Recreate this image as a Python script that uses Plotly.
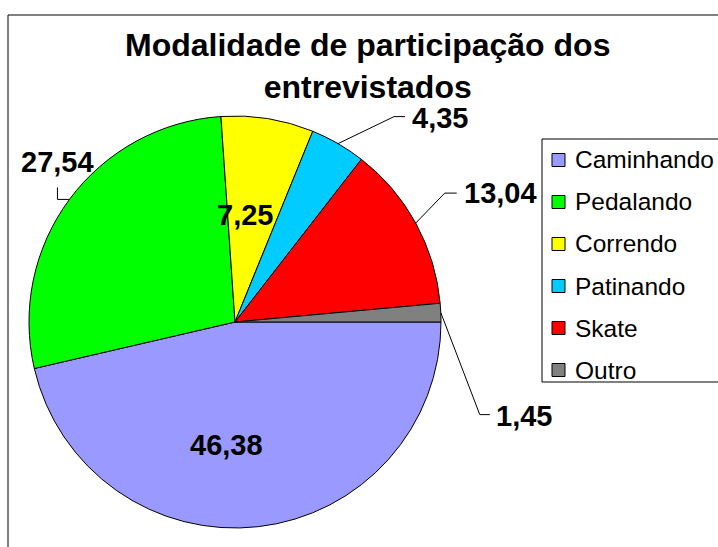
import math
import plotly.graph_objects as go

title = 'Modalidade de participação dos<br>entrevistados'
categories = ['Caminhando', 'Pedalando', 'Correndo', 'Patinando', 'Skate', 'Outro']
values = [46.38, 27.54, 7.25, 4.35, 13.04, 1.45]
colors = ['#9999FF', '#00FF00', '#FFFF00', '#00CCFF', '#FF0000', '#808080']

W, H = 718, 547
cx, cy, R = 235, 322, 206   # pie centre / radius in pixels
FONT = 'Liberation Sans, Arial, sans-serif'

def px(x):
    return x / W

def py(y):
    return 1 - y / H

# label placement per slice: offset of text from the slice's edge point,
# optional leader polyline (offsets), anchor of text
label_style = [
    dict(text=(-32, -82), xanchor='center', leader=None),
    dict(text=(-12, -37), xanchor='center', leader=[(-12, 0), (-12, -12)]),
    dict(text=(-23, 96), xanchor='center', leader=None),
    dict(text=(72, -26), xanchor='left', leader=[(56, -27), (67, -27)]),
    dict(text=(46, -30), xanchor='left', leader=[(29, -30), (41, -30)]),
    dict(text=(53, 103), xanchor='left', leader=[(39, 102), (49, 102)]),
]

fig = go.Figure()
fig.add_trace(go.Pie(labels=categories, values=values, sort=False,
                     direction='clockwise', rotation=90,
                     marker=dict(colors=colors, line=dict(color='black', width=1)),
                     textinfo='none', hoverinfo='label+value', showlegend=False,
                     domain=dict(x=[px(cx - R), px(cx + R)], y=[py(cy + R), py(cy - R)])))

shapes = []
annotations = []

# frame around the chart area (runs off the right and bottom edges)
shapes.append(dict(type='rect', xref='paper', yref='paper', x0=px(8), y0=-0.3, x1=1.3, y1=py(15),
                   line=dict(color='black', width=1), fillcolor='rgba(0,0,0,0)'))

total = sum(values)
cum = 0
for v, st in zip(values, label_style):
    th = 2 * math.pi * (cum + v / 2) / total
    cum += v
    ex, ey = cx + R * math.cos(th), cy + R * math.sin(th)
    if st['leader']:
        pts = [(ex, ey)] + [(ex + dx, ey + dy) for dx, dy in st['leader']]
        path = 'M' + ' L'.join(f'{px(a)},{py(b)}' for a, b in pts)
        shapes.append(dict(type='path', xref='paper', yref='paper', path=path,
                           line=dict(color='black', width=1)))
    tx, ty = ex + st['text'][0], ey + st['text'][1]
    annotations.append(dict(x=px(tx), y=py(ty), xref='paper', yref='paper', showarrow=False,
                            text='<b>' + f'{v:.2f}'.replace('.', ',') + '</b>',
                            xanchor=st['xanchor'], yanchor='middle',
                            font=dict(family=FONT, size=29, color='black')))

# title
annotations.append(dict(x=px(367), y=py(66), xref='paper', yref='paper', showarrow=False,
                        text='<b>' + title.replace('<br>', '</b><br><b>') + '</b>',
                        xanchor='center', yanchor='middle',
                        font=dict(family=FONT, size=32, color='black')))

# legend box (also runs off the right edge)
shapes.append(dict(type='rect', xref='paper', yref='paper', x0=px(542), y0=py(382), x1=1.3, y1=py(139),
                   line=dict(color='black', width=1), fillcolor='rgba(0,0,0,0)'))
for i, (name, col) in enumerate(zip(categories, colors)):
    yc = 160 + 42 * i
    shapes.append(dict(type='rect', xref='paper', yref='paper', x0=px(552), x1=px(565),
                       y0=py(yc + 6.5), y1=py(yc - 6.5),
                       line=dict(color='black', width=1), fillcolor=col))
    annotations.append(dict(x=px(573), y=py(yc), xref='paper', yref='paper', showarrow=False,
                            text=name, xanchor='left', yanchor='middle',
                            font=dict(family=FONT, size=24.5, color='black')))

fig.update_layout(width=W, height=H, margin=dict(l=0, r=0, t=0, b=0),
                  paper_bgcolor='white', plot_bgcolor='white',
                  shapes=shapes, annotations=annotations, showlegend=False)
fig.write_html('out.html', config={'displayModeBar': False},
               post_script="document.body.style.margin='0';document.body.style.overflow='hidden';")
